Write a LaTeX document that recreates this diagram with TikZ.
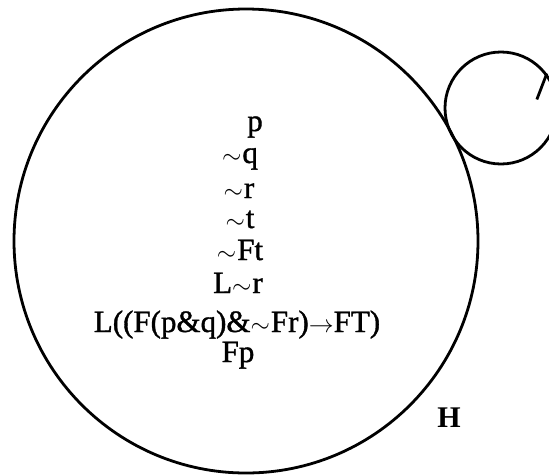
\documentclass[tikz,border=0pt]{standalone}
\usepackage{fontspec}
\setmainfont{Liberation Serif}
\newfontfamily\inkfont[FakeBold=1.2]{Liberation Serif}
\newcommand{\tl}{$\sim$\kern1pt}
\begin{document}
\begin{tikzpicture}[x=1pt,y=-1pt,
  ring/.style={circle,draw,line width=2.8pt,inner sep=0pt},
  formula/.style={anchor=base,inner sep=0pt,font=\fontsize{31}{33}\selectfont\inkfont}]
\useasboundingbox (0,0) rectangle (549,475);
\node[ring,minimum size=464pt] (world) at (246,241) {};
\node[ring,minimum size=112pt] (loop) at (501,108) {};
\draw[line width=2.8pt] (loop.37.5) -- ++(-10,26) coordinate (tickend);
\node[formula] (l1) at (255,131) {p};
\node[formula] (l2) at (240,163) {\tl q};
\node[formula] (l3) at (239,198) {\tl r};
\node[formula] (l4) at (240,228) {\tl t};
\node[formula] (l5) at (240,260) {\tl Ft};
\node[formula] (l6) at (238,293) {L\tl r};
\node[formula] (l7) at (237,332) {L((F(p\&q)\&\tl Fr)$\rightarrow$FT)};
\node[formula] (l8) at (238,362) {Fp};
\node[formula,font=\fontsize{30}{33}\selectfont\bfseries] (h) at (449,427) {H};
\end{tikzpicture}
\end{document}
